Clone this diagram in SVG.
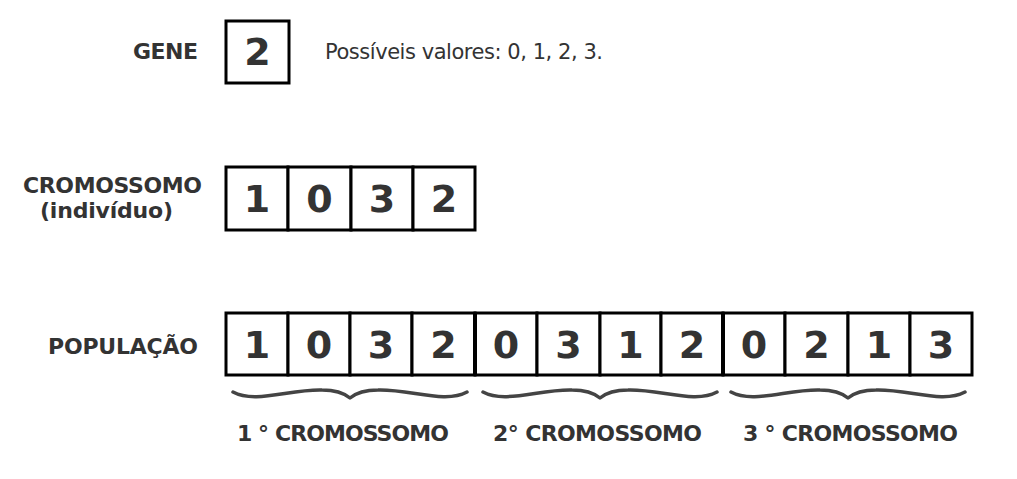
<svg xmlns="http://www.w3.org/2000/svg" width="1017" height="479" viewBox="0 0 1017 479">
<style>
.lbl{font-family:"DejaVu Sans","Liberation Sans",sans-serif;font-weight:bold;fill:#333;font-size:22px}
.dig{font-family:"DejaVu Sans","Liberation Sans",sans-serif;font-weight:bold;fill:#333;font-size:38px;text-anchor:middle}
.reg{font-family:"DejaVu Sans","Liberation Sans",sans-serif;fill:#333;font-size:21px}
.cell{fill:#fff;stroke:#000;stroke-width:3}
.sep{stroke:#000;stroke-width:4}
.brace{fill:none;stroke:#444;stroke-width:3.5;stroke-linecap:round;stroke-linejoin:round}
</style>
<defs>
<path id="br" class="brace" d="M-117,392 C-95,404 -60,389 -28,390 C-14,390 -6,393 0,398 C6,393 14,390 28,390 C60,389 95,404 117,392"/>
</defs>
<rect width="1017" height="479" fill="#fff"/>

<g id="labels">
<text class="lbl" x="133" y="59" textLength="65">GENE</text>
<text class="lbl" x="23" y="193" textLength="179">CROMOSSOMO</text>
<text class="lbl" x="40" y="218" textLength="133">(indivíduo)</text>
<text class="lbl" x="48" y="354" textLength="150">POPULAÇÃO</text>
<text class="reg" x="325" y="59" textLength="278">Possíveis valores: 0, 1, 2, 3.</text>
</g>

<g id="gene">
<rect class="cell" x="226" y="21" width="63" height="62"/>
<text class="dig" x="257.5" y="65">2</text>
</g>

<g id="cromossomo">
<g id="c1"><rect class="cell" x="226" y="167" width="62" height="63"/><text class="dig" x="257" y="212">1</text></g>
<g id="c2"><rect class="cell" x="288" y="167" width="63" height="63"/><text class="dig" x="319.5" y="212">0</text></g>
<g id="c3"><rect class="cell" x="351" y="167" width="62" height="63"/><text class="dig" x="382" y="212">3</text></g>
<g id="c4"><rect class="cell" x="413" y="167" width="62" height="63"/><text class="dig" x="444" y="212">2</text></g>
</g>

<g id="populacao">
<g id="p1"><rect class="cell" x="226" y="313" width="62" height="62"/><text class="dig" x="257" y="358">1</text></g>
<g id="p2"><rect class="cell" x="288" y="313" width="62" height="62"/><text class="dig" x="319" y="358">0</text></g>
<g id="p3"><rect class="cell" x="350" y="313" width="62" height="62"/><text class="dig" x="381" y="358">3</text></g>
<g id="p4"><rect class="cell" x="412" y="313" width="63" height="62"/><text class="dig" x="443.5" y="358">2</text></g>
<g id="p5"><rect class="cell" x="475" y="313" width="62" height="62"/><text class="dig" x="506" y="358">0</text></g>
<g id="p6"><rect class="cell" x="537" y="313" width="63" height="62"/><text class="dig" x="568.5" y="358">3</text></g>
<g id="p7"><rect class="cell" x="600" y="313" width="61" height="62"/><text class="dig" x="630.5" y="358">1</text></g>
<g id="p8"><rect class="cell" x="661" y="313" width="62" height="62"/><text class="dig" x="692" y="358">2</text></g>
<g id="p9"><rect class="cell" x="723" y="313" width="62" height="62"/><text class="dig" x="754" y="358">0</text></g>
<g id="p10"><rect class="cell" x="785" y="313" width="63" height="62"/><text class="dig" x="816.5" y="358">2</text></g>
<g id="p11"><rect class="cell" x="848" y="313" width="62" height="62"/><text class="dig" x="879" y="358">1</text></g>
<g id="p12"><rect class="cell" x="910" y="313" width="62" height="62"/><text class="dig" x="941" y="358">3</text></g>
<line class="sep" x1="475" y1="313" x2="475" y2="375"/>
<line class="sep" x1="723" y1="313" x2="723" y2="375"/>
</g>

<g id="braces">
<use href="#br" x="350"/>
<use href="#br" x="600"/>
<use href="#br" x="848"/>
<text class="lbl" x="237" y="441" textLength="212">1 ° CROMOSSOMO</text>
<text class="lbl" x="493" y="441" textLength="209">2° CROMOSSOMO</text>
<text class="lbl" x="743" y="441" textLength="215">3 ° CROMOSSOMO</text>
</g>
</svg>
